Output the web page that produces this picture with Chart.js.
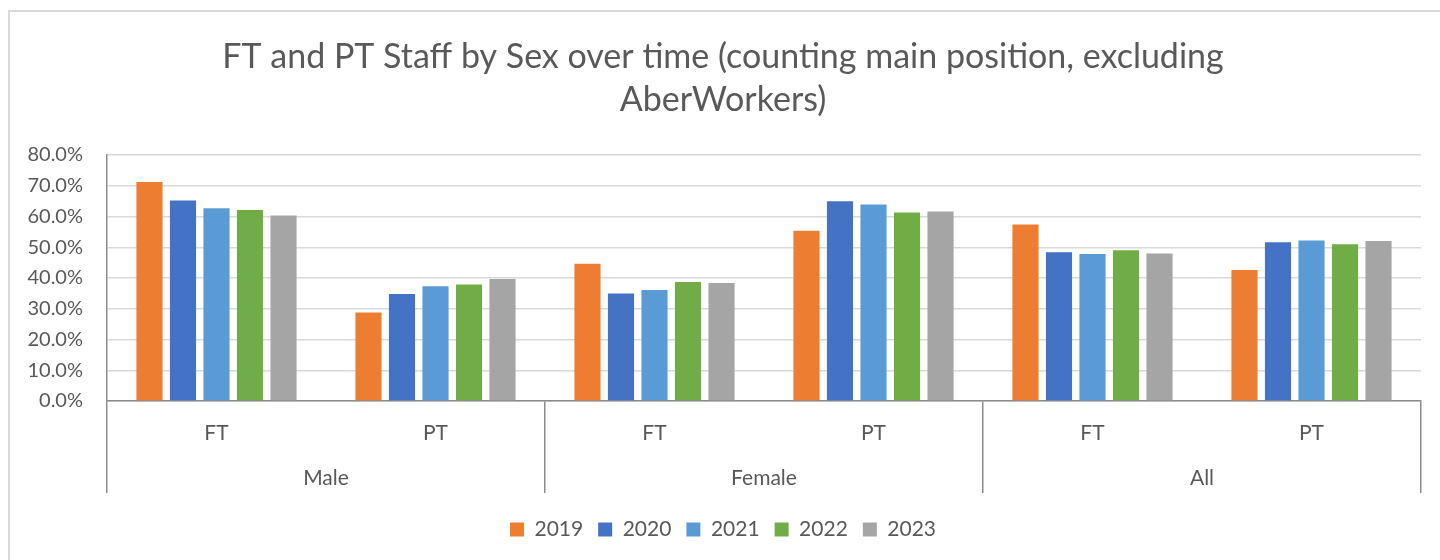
<!DOCTYPE html>
<html>
<head>
<meta charset="utf-8">
<script src="https://cdn.jsdelivr.net/npm/chart.js@4.4.1/dist/chart.umd.min.js"></script>
<style>
  html, body { margin: 0; padding: 0; width: 1440px; height: 560px; overflow: hidden; background: #ffffff; }
  #frame { position: absolute; left: 8px; top: 10px; width: 1440px; height: 560px; border: 2px solid #d9d9d9; box-sizing: border-box; }
  #c { position: absolute; left: 8px; top: 0; }
</style>
</head>
<body>
<div id="frame"></div>
<canvas id="c" width="1440" height="560"></canvas>
<script>
const titleLines = ['FT and PT Staff by Sex over time (counting main position, excluding', 'AberWorkers)'];
const categories = ['FT', 'PT', 'FT', 'PT', 'FT', 'PT'];
const groups = ['Male', 'Female', 'All'];
const years = ['2019', '2020', '2021', '2022', '2023'];
const s2019 = [71.2, 28.8, 44.6, 55.4, 57.4, 42.6];
const s2020 = [65.2, 34.8, 35.0, 65.0, 48.4, 51.6];
const s2021 = [62.7, 37.3, 36.1, 63.9, 47.8, 52.2];
const s2022 = [62.1, 37.9, 38.7, 61.3, 49.0, 51.0];
const s2023 = [60.3, 39.7, 38.4, 61.6, 48.0, 52.0];
const seriesValues = [s2019, s2020, s2021, s2022, s2023];
const colors = ['#ED7D31', '#4472C4', '#5B9BD5', '#70AD47', '#A5A5A5'];

Chart.defaults.font.family = 'Lato';
Chart.defaults.color = '#595959';

const datasets = years.map((y, i) => ({
  label: y,
  data: seriesValues[i],
  backgroundColor: colors[i],
  borderWidth: 0,
  categoryPercentage: 0.765,
  barPercentage: 0.78,
  xAxisID: 'x',
  yAxisID: 'y'
}));

new Chart(document.getElementById('c'), {
  type: 'bar',
  data: { labels: categories, datasets },
  options: {
    responsive: false,
    animation: false,
    layout: { padding: { left: 17, right: 27, top: 26, bottom: 10 } },
    plugins: {
      title: {
        display: true,
        text: titleLines,
        color: '#595959',
        font: { family: 'Lato', size: 34, weight: 'normal', lineHeight: 1.265 },
        padding: { top: 10, bottom: 33 }
      },
      legend: {
        position: 'bottom',
        labels: {
          boxWidth: 14,
          boxHeight: 14,
          padding: 15,
          color: '#595959',
          font: { size: 21 }
        }
      },
      tooltip: { enabled: false }
    },
    scales: {
      y: {
        min: 0,
        max: 80,
        ticks: {
          stepSize: 10,
          padding: 24,
          color: '#595959',
          font: { size: 20 },
          callback: v => v.toFixed(1) + '%'
        },
        grid: { color: '#d9d9d9', lineWidth: 1.5, drawTicks: false },
        border: { display: true, color: '#8c8c8c', width: 1.5 },
        afterFit: s => { s.width = 82; }
      },
      x: {
        position: 'bottom',
        weight: 0,
        offset: true,
        grid: {
          display: true,
          offset: true,
          drawOnChartArea: false,
          drawTicks: true,
          tickLength: 92,
          lineWidth: 1.5,
          color: ctx => (ctx.index === undefined || ctx.index % 2 === 0) ? '#8c8c8c' : 'rgba(0,0,0,0)'
        },
        border: { display: true, color: '#8c8c8c', width: 1.5 },
        ticks: { padding: -72, color: '#595959', font: { size: 21 } },
        afterFit: s => { s.height = 42; }
      },
      x2: {
        type: 'category',
        labels: groups,
        position: 'bottom',
        weight: 1,
        offset: true,
        grid: { display: false, drawTicks: false },
        border: { display: false },
        ticks: { padding: 23, color: '#595959', font: { size: 21 } },
        afterFit: s => { s.height = 61; }
      }
    }
  }
});
</script>
</body>
</html>
